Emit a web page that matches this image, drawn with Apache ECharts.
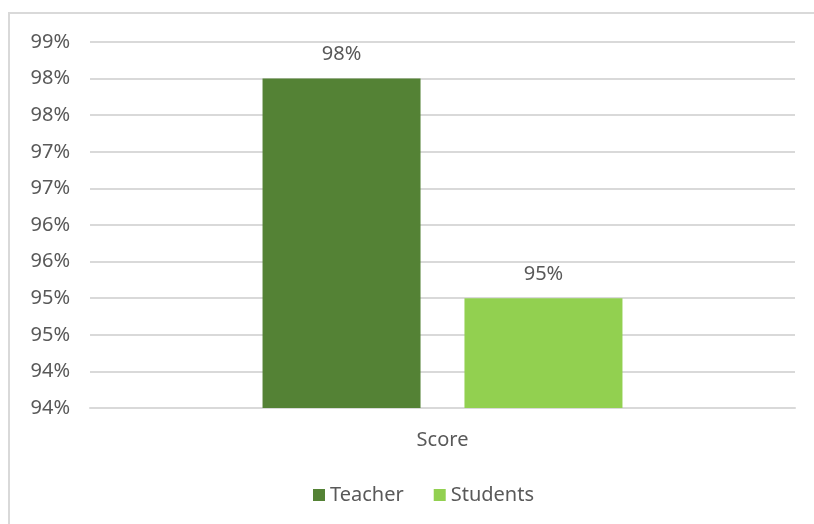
<!DOCTYPE html>
<html>
<head>
<meta charset="utf-8">
<script src="https://cdn.jsdelivr.net/npm/echarts@6/dist/echarts.min.js"></script>
<style>html,body{margin:0;padding:0;background:#fff}#c{width:814px;height:524px}</style>
</head>
<body>
<div id="c"></div>
<script>
const categories = ['Score'];
const seriesNames = ['Teacher', 'Students'];
const teacherValues = [98];
const studentValues = [95];
const yMin = 93.5, yMax = 98.5, yInterval = 0.5;

const FONT = '"Noto Sans", sans-serif';
const FS = 20;
const TXT = '#595959';
const chart = echarts.init(document.getElementById('c'), null, {renderer: 'canvas'});
chart.setOption({
  animation: false,
  backgroundColor: '#fff',
  textStyle: {fontFamily: FONT},
  graphic: [
    {type: 'line', shape: {x1: 8, y1: 13, x2: 820, y2: 13},
     style: {stroke: '#d9d9d9', lineWidth: 2}, silent: true, z: -1},
    {type: 'line', shape: {x1: 9, y1: 12, x2: 9, y2: 530},
     style: {stroke: '#d9d9d9', lineWidth: 2}, silent: true, z: -1}
  ],
  grid: {left: 90, right: 19, top: 42, bottom: 116, containLabel: false},
  legend: {
    data: seriesNames, left: 308, top: 480, itemWidth: 12, itemHeight: 12, itemGap: 30,
    icon: 'rect',
    textStyle: {color: TXT, fontSize: FS, fontFamily: FONT}
  },
  xAxis: {
    type: 'category', data: categories,
    axisLine: {lineStyle: {color: '#d9d9d9', width: 2}},
    axisTick: {show: false},
    axisLabel: {color: TXT, fontSize: FS, margin: 22, fontFamily: FONT}
  },
  yAxis: {
    type: 'value', min: yMin, max: yMax, interval: yInterval,
    axisLine: {show: false}, axisTick: {show: false},
    splitLine: {lineStyle: {color: '#d9d9d9', width: 2}},
    axisLabel: {color: TXT, fontSize: FS, margin: 20, fontFamily: FONT,
      formatter: v => Math.round(v) + '%'}
  },
  series: [
    {name: seriesNames[0], type: 'bar', data: teacherValues, barWidth: 158, barGap: '27.8%',
     itemStyle: {color: '#548235'},
     label: {show: true, position: 'top', distance: 14, color: TXT, fontSize: FS, fontFamily: FONT,
       formatter: p => Math.round(p.value) + '%'}},
    {name: seriesNames[1], type: 'bar', data: studentValues, barWidth: 158,
     itemStyle: {color: '#92d050'},
     label: {show: true, position: 'top', distance: 14, color: TXT, fontSize: FS, fontFamily: FONT,
       formatter: p => Math.round(p.value) + '%'}}
  ]
});
</script>
</body>
</html>
